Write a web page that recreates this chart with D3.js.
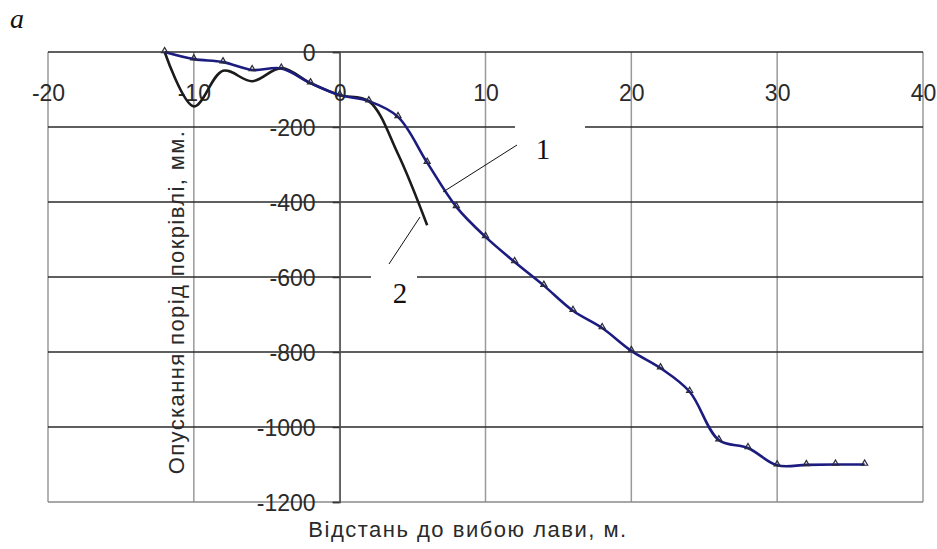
<!DOCTYPE html>
<html>
<head>
<meta charset="utf-8">
<script src="https://cdn.jsdelivr.net/npm/d3@7"></script>
<style>
  html, body { margin: 0; padding: 0; background: #fff; }
  svg { display: block; }
</style>
</head>
<body>
<svg id="chart" width="937" height="549"></svg>
<script>
// ---- data ----
const xTicks = [-20, -10, 0, 10, 20, 30, 40];
const yTicks = [0, -200, -400, -600, -800, -1000, -1200];

const dist1 = [-12, -10, -8, -6, -4, -2, 0, 2, 4, 6, 8, 10, 12, 14, 16, 18, 20, 22, 24, 26, 28, 30, 32, 34, 36];
const subs1 = [0, -19, -27, -48, -44, -83, -115, -131, -173, -295, -413, -493, -560, -623, -690, -736, -797, -843, -906, -1035, -1056, -1102, -1101, -1100, -1100];

const dist2 = [-12, -10, -8, -6, -4, -2, 0, 2, 4, 6];
const subs2 = [0, -145, -50, -78, -43, -83, -115, -131, -272, -462];

const xTitle = "Відстань до вибою лави, м.";
const yTitle = "Опускання порід покрівлі, мм.";
const panelLabel = "a";
const curveLabels = ["1", "2"];

// ---- layout ----
const svg = d3.select("#chart");
const x = d3.scaleLinear().domain([-20, 40]).range([48, 923]);
const y = d3.scaleLinear().domain([-1200, 0]).range([502, 52]);

const sans = "'Liberation Sans', Arial, sans-serif";
const serif = "'Liberation Serif', 'Times New Roman', serif";

// vertical gridlines (gray)
svg.append("g").selectAll("line").data(xTicks).join("line")
  .attr("x1", d => x(d)).attr("x2", d => x(d))
  .attr("y1", y(0)).attr("y2", y(-1200))
  .attr("stroke", "#9a9a9a").attr("stroke-width", 1.5);

// horizontal gridlines (dark)
svg.append("g").selectAll("line").data(yTicks.filter(d => d !== -1200)).join("line")
  .attr("x1", x(-20)).attr("x2", x(40))
  .attr("y1", d => y(d)).attr("y2", d => y(d))
  .attr("stroke", "#2a2a2a").attr("stroke-width", 1.5);
// bottom border (gray)
svg.append("line")
  .attr("x1", x(-20)).attr("x2", x(40)).attr("y1", y(-1200)).attr("y2", y(-1200))
  .attr("stroke", "#8a8a8a").attr("stroke-width", 1.5);

// y axis at x = 0
const yAxis = d3.axisLeft(y).tickValues(yTicks).tickSize(7).tickFormat(d => d === 0 ? "0" : "-" + Math.abs(d));
const yg = svg.append("g").attr("transform", `translate(${x(0)},0)`).call(yAxis);
yg.select(".domain").attr("stroke", "#555").attr("stroke-width", 1.5);
yg.selectAll(".tick line").attr("stroke", "#333").attr("stroke-width", 1.5);
yg.selectAll(".tick text")
  .attr("x", -24).attr("dy", "0.36em")
  .attr("font-family", sans).attr("font-size", 23).attr("fill", "#2a2a2a");

// x axis labels along the top line
const xAxis = d3.axisBottom(x).tickValues(xTicks).tickSize(0).tickFormat(d => d < 0 ? "-" + Math.abs(d) : String(d));
const xg = svg.append("g").attr("transform", `translate(0,${y(0)})`).call(xAxis);
xg.select(".domain").remove();
xg.selectAll(".tick text")
  .attr("y", 49).attr("dy", 0)
  .attr("font-family", sans).attr("font-size", 23).attr("fill", "#2a2a2a");

// label background boxes (cover gridlines)
svg.append("rect").attr("x", 515).attr("y", 117).attr("width", 70).attr("height", 20).attr("fill", "#fff");
svg.append("rect").attr("x", 371).attr("y", 268).attr("width", 46).attr("height", 20).attr("fill", "#fff");

// curves
const line = d3.line().x(d => x(d[0])).y(d => y(d[1])).curve(d3.curveCatmullRom.alpha(0.5));
const pts1 = dist1.map((d, i) => [d, subs1[i]]);
const pts2 = dist2.map((d, i) => [d, subs2[i]]);

svg.append("path").attr("d", line(pts2)).attr("fill", "none")
  .attr("stroke", "#1b1b1b").attr("stroke-width", 2.6);
svg.append("path").attr("d", line(pts1)).attr("fill", "none")
  .attr("stroke", "#1c1c80").attr("stroke-width", 2.6);

// triangle markers
const tri = d3.symbol().type(d3.symbolTriangle).size(16);
svg.append("g").selectAll("path").data(pts1).join("path")
  .attr("d", tri)
  .attr("transform", d => `translate(${x(d[0])},${y(d[1]) - 1})`)
  .attr("fill", "none").attr("stroke", "#2a2a3a").attr("stroke-width", 1.2);

// leader lines
svg.append("line").attr("x1", 517).attr("y1", 145).attr("x2", 443).attr("y2", 192)
  .attr("stroke", "#111").attr("stroke-width", 1);
svg.append("line").attr("x1", 420).attr("y1", 217).attr("x2", 389).attr("y2", 264)
  .attr("stroke", "#111").attr("stroke-width", 1);

// curve labels
svg.append("text").attr("x", 543).attr("y", 159).attr("text-anchor", "middle")
  .attr("font-family", serif).attr("font-size", 29).attr("fill", "#111").text(curveLabels[0]);
svg.append("text").attr("x", 400).attr("y", 303).attr("text-anchor", "middle")
  .attr("font-family", serif).attr("font-size", 29).attr("fill", "#111").text(curveLabels[1]);

// panel label
svg.append("text").attr("x", 10).attr("y", 28)
  .attr("font-family", serif).attr("font-style", "italic").attr("font-size", 28).attr("fill", "#111").text(panelLabel);

// axis titles
svg.append("text").attr("transform", "translate(184,302) rotate(-90)")
  .attr("text-anchor", "middle").attr("letter-spacing", 1.4)
  .attr("font-family", sans).attr("font-size", 22).attr("fill", "#2a2a2a").text(yTitle);
svg.append("text").attr("x", 468).attr("y", 537).attr("text-anchor", "middle").attr("letter-spacing", 1.5)
  .attr("font-family", sans).attr("font-size", 22).attr("fill", "#2a2a2a").text(xTitle);
</script>
</body>
</html>
